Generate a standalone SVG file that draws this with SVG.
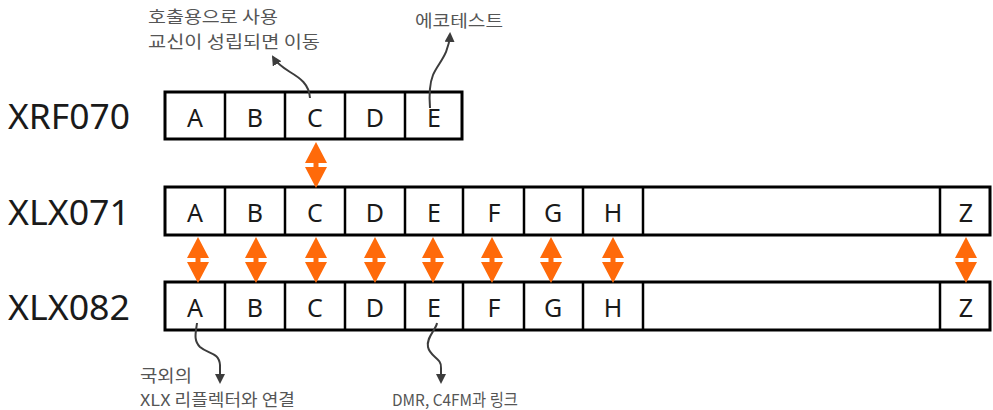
<svg xmlns="http://www.w3.org/2000/svg" xmlns:xlink="http://www.w3.org/1999/xlink" width="993" height="410" viewBox="0 0 993 410">
<style>
.box{fill:#fff;stroke:#000;stroke-width:3}
.div{stroke:#000;stroke-width:2.5}
.lbl{font-family:"Noto Sans","Open Sans",sans-serif;font-size:34px;fill:#1a1a1a}
.cell{font-family:"Noto Sans","Open Sans",sans-serif;font-size:25px;fill:#1a1a1a;text-anchor:middle}
.note{font-family:"Noto Sans CJK KR","Noto Sans",sans-serif;font-size:16.5px;fill:#555}
.curve{fill:none;stroke:#3c3c3c;stroke-width:2}
.orange{fill:#FF6A0A}
</style>
<defs>
<marker id="ah" viewBox="0 0 10 10" refX="8" refY="5" markerWidth="10" markerHeight="10" markerUnits="userSpaceOnUse" orient="auto">
<path d="M0,0 L10,5 L0,10 Z" fill="#3c3c3c"/>
</marker>
<polygon id="dbl" class="orange" points="0,0 11,21 2.5,21 2.5,25 11,25 0,46 -11,25 -2.5,25 -2.5,21 -11,21"/>
</defs>

<g id="row-XRF070">
<text class="lbl" x="8" y="129" textLength="122" lengthAdjust="spacingAndGlyphs">XRF070</text>
<rect class="box" x="165" y="92" width="297" height="47"/>
<line class="div" x1="225" y1="92" x2="225" y2="139"/>
<line class="div" x1="285" y1="92" x2="285" y2="139"/>
<line class="div" x1="345" y1="92" x2="345" y2="139"/>
<line class="div" x1="405" y1="92" x2="405" y2="139"/>
<text class="cell" x="195" y="127">A</text>
<text class="cell" x="255" y="127">B</text>
<text class="cell" x="315" y="127">C</text>
<text class="cell" x="375" y="127">D</text>
<text class="cell" x="434" y="127">E</text>
</g>

<g id="row-XLX071">
<text class="lbl" x="8" y="225" textLength="122" lengthAdjust="spacingAndGlyphs">XLX071</text>
<rect class="box" x="165" y="187" width="825" height="48"/>
<line class="div" x1="225" y1="187" x2="225" y2="235"/>
<line class="div" x1="285" y1="187" x2="285" y2="235"/>
<line class="div" x1="345" y1="187" x2="345" y2="235"/>
<line class="div" x1="405" y1="187" x2="405" y2="235"/>
<line class="div" x1="463" y1="187" x2="463" y2="235"/>
<line class="div" x1="524" y1="187" x2="524" y2="235"/>
<line class="div" x1="583" y1="187" x2="583" y2="235"/>
<line class="div" x1="643" y1="187" x2="643" y2="235"/>
<line class="div" x1="940" y1="187" x2="940" y2="235"/>
<text class="cell" x="195" y="222">A</text>
<text class="cell" x="255" y="222">B</text>
<text class="cell" x="315" y="222">C</text>
<text class="cell" x="375" y="222">D</text>
<text class="cell" x="434" y="222">E</text>
<text class="cell" x="494" y="222">F</text>
<text class="cell" x="553" y="222">G</text>
<text class="cell" x="613" y="222">H</text>
<text class="cell" x="966" y="222">Z</text>
</g>

<g id="row-XLX082">
<text class="lbl" x="8" y="320" textLength="122" lengthAdjust="spacingAndGlyphs">XLX082</text>
<rect class="box" x="165" y="282" width="825" height="48"/>
<line class="div" x1="225" y1="282" x2="225" y2="330"/>
<line class="div" x1="285" y1="282" x2="285" y2="330"/>
<line class="div" x1="345" y1="282" x2="345" y2="330"/>
<line class="div" x1="405" y1="282" x2="405" y2="330"/>
<line class="div" x1="463" y1="282" x2="463" y2="330"/>
<line class="div" x1="524" y1="282" x2="524" y2="330"/>
<line class="div" x1="583" y1="282" x2="583" y2="330"/>
<line class="div" x1="643" y1="282" x2="643" y2="330"/>
<line class="div" x1="940" y1="282" x2="940" y2="330"/>
<text class="cell" x="195" y="317">A</text>
<text class="cell" x="255" y="317">B</text>
<text class="cell" x="315" y="317">C</text>
<text class="cell" x="375" y="317">D</text>
<text class="cell" x="434" y="317">E</text>
<text class="cell" x="494" y="317">F</text>
<text class="cell" x="553" y="317">G</text>
<text class="cell" x="613" y="317">H</text>
<text class="cell" x="966" y="317">Z</text>
</g>

<g id="note-C">
<text class="note" x="148" y="23" textLength="130" lengthAdjust="spacingAndGlyphs">호출용으로 사용</text>
<text class="note" x="148" y="48" textLength="172" lengthAdjust="spacingAndGlyphs">교신이 성립되면 이동</text>
</g>
<g id="note-E-top">
<text class="note" x="415" y="27" textLength="88" lengthAdjust="spacingAndGlyphs">에코테스트</text>
</g>
<g id="note-A">
<text class="note" x="140" y="382" textLength="52" lengthAdjust="spacingAndGlyphs">국외의</text>
<text class="note" x="140" y="406" textLength="155" lengthAdjust="spacingAndGlyphs">XLX 리플렉터와 연결</text>
</g>
<g id="note-E-bottom">
<text class="note" x="392" y="406" textLength="126" lengthAdjust="spacingAndGlyphs">DMR, C4FM과 링크</text>
</g>

<g id="connectors">
<use xlink:href="#dbl" href="#dbl" x="316" y="142"/>
<use xlink:href="#dbl" href="#dbl" x="198" y="237"/>
<use xlink:href="#dbl" href="#dbl" x="256" y="237"/>
<use xlink:href="#dbl" href="#dbl" x="316" y="237"/>
<use xlink:href="#dbl" href="#dbl" x="375" y="237"/>
<use xlink:href="#dbl" href="#dbl" x="433" y="237"/>
<use xlink:href="#dbl" href="#dbl" x="492" y="237"/>
<use xlink:href="#dbl" href="#dbl" x="551" y="237"/>
<use xlink:href="#dbl" href="#dbl" x="613" y="237"/>
<use xlink:href="#dbl" href="#dbl" x="966" y="237"/>
<path class="curve" marker-end="url(#ah)" d="M310,98 C309,84 300,78 290,72 C282,67 276,62 273,57"/>
<path class="curve" marker-end="url(#ah)" d="M430,108 C429,95 429,85 433,75 C438,63 449,55 450,34"/>
<path class="curve" marker-end="url(#ah)" d="M197,323 C196,332 193,340 200,347 C208,354 219,352 220,365 L220,382"/>
<path class="curve" marker-end="url(#ah)" d="M437,323 C436,330 426,337 428,347 C430,357 442,358 441,368 L441,382"/>
</g>
</svg>
